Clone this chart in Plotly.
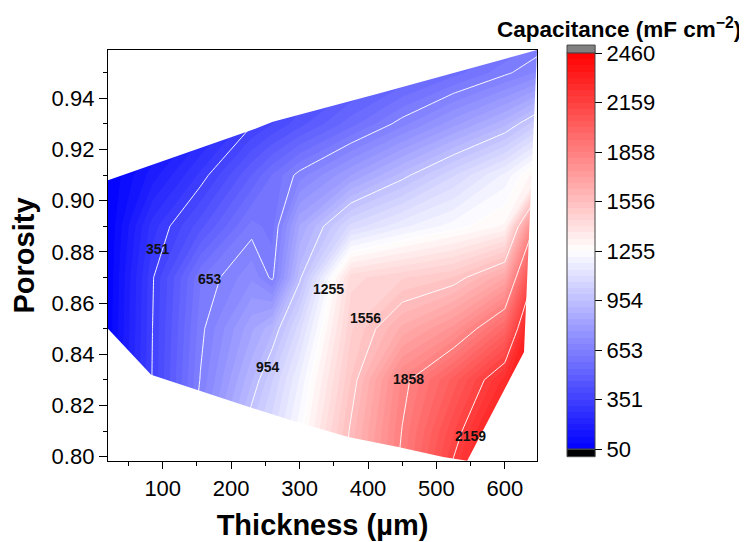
import plotly.graph_objects as go

# ---- data ----
thickness = [20, 85, 155, 230, 260, 300, 375, 450, 525, 600, 650]          # µm (grid nodes)
porosity = [0.79, 0.81, 0.83, 0.85, 0.87, 0.89, 0.91, 0.93, 0.95, 0.97]     # grid nodes
capacitance = [  # mF cm^-2, rows follow porosity, columns follow thickness
    [80, 320, 720, 1060, 1150, 1290, 1600, 1890, 2200, 2420, 2460],
    [80, 330, 700, 1000, 1090, 1240, 1568, 1861, 2115, 2380, 2460],
    [80, 355, 656, 913, 1025, 1184, 1519, 1829, 2022, 2250, 2460],
    [60, 351, 636, 833, 908, 1089, 1474, 1643, 1758, 1978, 2460],
    [55, 345, 610, 720, 640, 940, 1430, 1475, 1520, 1667, 2250],
    [50, 295, 450, 630, 600, 844, 1080, 1170, 1235, 1300, 1950],
    [50, 181, 323, 504, 580, 672, 803, 933, 1062, 1190, 1330],
    [50, 100, 200, 345, 389, 449, 562, 676, 790, 904, 1030],
    [50, 80, 150, 250, 290, 350, 420, 490, 560, 640, 700],
    [50, 60, 100, 180, 220, 270, 340, 400, 460, 520, 560],
]

# outline of the measured region (thickness, porosity)
hull_thickness = [20, 83, 154, 225, 286, 371, 444, 510, 545, 628, 647, 417, 261, 230, 20]
hull_porosity = [0.850, 0.832, 0.8258, 0.8195, 0.8143, 0.8077, 0.8038, 0.7999, 0.7984,
                 0.8409, 0.9589, 0.942, 0.9309, 0.9276, 0.908]

level_values = [50, 351.25, 652.5, 953.75, 1255, 1556.25, 1857.5, 2158.75, 2460]
level_text = ["50", "351", "653", "954", "1255", "1556", "1858", "2159", "2460"]

label_thickness = [93, 169, 254, 342, 396, 459, 550]
label_porosity = [0.8811, 0.8695, 0.835, 0.8655, 0.854, 0.8302, 0.8081]
label_text = ["351", "653", "954", "1255", "1556", "1858", "2159"]

FONT = "Liberation Sans, Arial, sans-serif"
cscale = [[0, "rgb(0,0,255)"], [0.5, "rgb(255,255,255)"], [1, "rgb(255,0,0)"]]
step = (level_values[1] - level_values[0])

fig = go.Figure()

# filled contour bands
fig.add_trace(go.Contour(
    x=thickness, y=porosity, z=capacitance,
    colorscale=cscale, zmin=level_values[0], zmax=level_values[-1],
    autocontour=False,
    contours=dict(start=level_values[0], end=level_values[-1], size=step / 8, coloring="fill"),
    line=dict(width=0, smoothing=0),
    colorbar=dict(
        tickvals=level_values, ticktext=level_text,
        tickfont=dict(family=FONT, size=22, color="black"),
        ticks="outside", ticklen=7, tickwidth=1.3, tickcolor="black",
        thickness=28, thicknessmode="pixels",
        len=396, lenmode="pixels",
        x=1.070, xanchor="left", xpad=0,
        y=0.992, yanchor="top", ypad=0,
        outlinewidth=1, outlinecolor="#444",
    ),
    hoverinfo="skip",
))

# white major contour lines
fig.add_trace(go.Contour(
    x=thickness, y=porosity, z=capacitance,
    autocontour=False,
    contours=dict(start=level_values[1], end=level_values[-2], size=step, coloring="none"),
    line=dict(color="rgba(255,255,255,0.95)", width=1, smoothing=0),
    showscale=False, hoverinfo="skip",
))

# white mask outside the measured region
X0, X1, Y0, Y1 = -200, 900, 0.70, 1.10
ys = hull_porosity[0]
mask_x = [X0, X0, X1, X1, X0, X0] + [hull_thickness[0]] + hull_thickness[::-1] + [X0]
mask_y = [ys, Y0, Y0, Y1, Y1, ys] + [hull_porosity[0]] + hull_porosity[::-1] + [ys]
fig.add_trace(go.Scatter(
    x=mask_x, y=mask_y, mode="lines", fill="toself",
    fillcolor="white", line=dict(width=0, color="white"),
    hoverinfo="skip", showlegend=False,
))

for tx, ty, tt in zip(label_thickness, label_porosity, label_text):
    fig.add_annotation(x=tx, y=ty, xref="x", yref="y", text=f"<b>{tt}</b>",
                       showarrow=False, xanchor="center", yanchor="middle",
                       font=dict(family=FONT, size=14, color="#111"))

# colorbar title and the out-of-range caps
fig.add_annotation(x=1.192, y=1.0535, xref="paper", yref="paper",
                   xanchor="center", yanchor="middle",
                   text="<b>Capacitance (mF cm<sup>−2</sup>)</b>", showarrow=False,
                   font=dict(family=FONT, size=22.5, color="black"))
fig.add_shape(type="rect", xref="paper", yref="paper", x0=1.070, x1=1.1355, y0=0.0105, y1=0.0285,
              fillcolor="black", line=dict(width=1, color="#444"))
fig.add_shape(type="rect", xref="paper", yref="paper", x0=1.070, x1=1.1355, y0=0.992, y1=1.012,
              fillcolor="rgb(128,128,128)", line=dict(width=1, color="#444"))

fig.update_layout(
    width=739, height=534,
    margin=dict(l=100, r=210, t=42, b=81, autoexpand=False),
    paper_bgcolor="white", plot_bgcolor="white",
    font=dict(family=FONT, color="black"),
    showlegend=False,
    xaxis=dict(
        range=[20, 647], tick0=0, dtick=100, automargin=False,
        showgrid=False, zeroline=False,
        showline=True, linecolor="black", linewidth=1.3, mirror=True,
        ticks="outside", ticklen=7, tickwidth=1.3, tickcolor="black",
        minor=dict(dtick=50, tick0=0, ticks="outside", ticklen=4, tickwidth=1.2, tickcolor="black"),
        tickfont=dict(family=FONT, size=22, color="black"),
        title=dict(text="<b>Thickness (µm)</b>", font=dict(family=FONT, size=29, color="black"), standoff=15),
    ),
    yaxis=dict(
        range=[0.7983, 0.9589], tick0=0.8, dtick=0.02, tickformat=".2f", automargin=False,
        showgrid=False, zeroline=False,
        showline=True, linecolor="black", linewidth=1.3, mirror=True,
        ticks="outside", ticklen=8, tickwidth=1.3, tickcolor="black",
        minor=dict(dtick=0.01, tick0=0.8, ticks="outside", ticklen=4, tickwidth=1.2, tickcolor="black"),
        tickfont=dict(family=FONT, size=22, color="black"),
        title=dict(text="<b>Porosity</b>", font=dict(family=FONT, size=29, color="black"), standoff=8),
    ),
)

fig.write_html("out.html")
